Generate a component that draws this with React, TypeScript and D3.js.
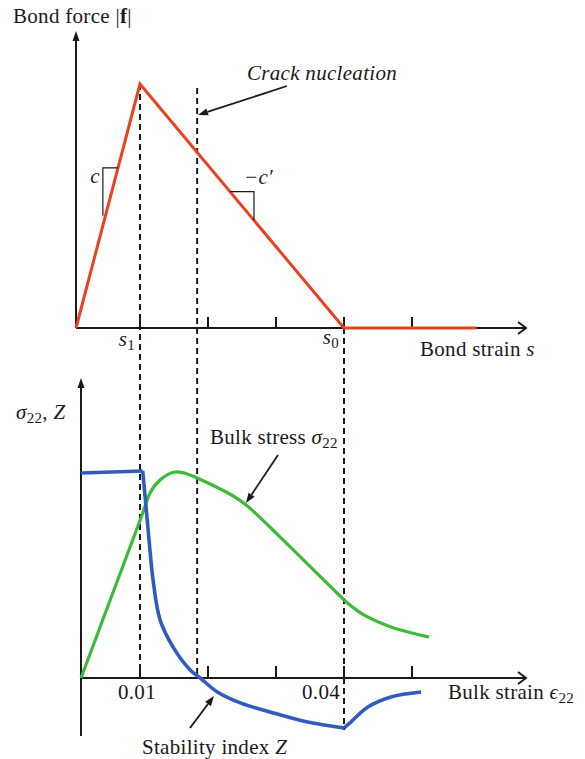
import React from 'react';
import * as d3 from 'd3';

const W = 585;
const H = 759;

// ---- Top panel: bond force law ----
const bondStrain = [0, 0.01, 0.04, 0.0595];
const bondForce = [0, 1, 0, 0];
const strainTicks = [0.01, 0.02, 0.03, 0.04, 0.05];
const s1 = 0.01;
const s0 = 0.04;
const crackStrain = 0.0184;

// ---- Bottom panel: bulk response ----
const stressStrainA = [0, 0.0103, 0.01148, 0.01295, 0.01517, 0.01738, 0.01841, 0.02225, 0.02579, 0.02963, 0.03362, 0.03701, 0.04];
const stressValueA = [0, 0.791, 0.898, 0.961, 1.0, 0.985, 0.971, 0.91, 0.835, 0.716, 0.587, 0.476, 0.379];
const stressStrainB = [0.04, 0.04292, 0.0469, 0.05251];
const stressValueB = [0.379, 0.306, 0.248, 0.199];

const zStrainA = [0, 0.0104, 0.01089, 0.01133, 0.01192, 0.01295, 0.01487, 0.01738, 0.01886, 0.02137, 0.02476, 0.02963, 0.03465, 0.04];
const zValueA = [0.995, 1.005, 0.83, 0.67, 0.476, 0.282, 0.15, 0.039, 0, -0.068, -0.121, -0.17, -0.214, -0.243];
const zStrainB = [0.04, 0.041, 0.04351, 0.0469, 0.05133];
const zValueB = [-0.243, -0.214, -0.141, -0.092, -0.068];

const bottomTickLabels = ['0.01', '0.04'];
const bottomTickValues = [0.01, 0.04];

const RED = '#e8421f';
const GREEN = '#3dba3a';
const BLUE = '#2f5cbd';
const INK = '#1a1a1a';
const FONT = "'Liberation Serif', 'Times New Roman', serif";

function zip(xs: number[], ys: number[]): [number, number][] {
  return xs.map((x, i) => [x, ys[i]]);
}

export default function App() {
  const xTop = d3.scaleLinear().domain([0, 0.01, 0.05]).range([76, 140, 412]);
  const yTop = d3.scaleLinear().domain([0, 1]).range([328, 84]);
  const xBot = d3.scaleLinear().domain([0, 0.01, 0.05]).range([81, 140, 412]);
  const yBot = d3.scaleLinear().domain([0, 1]).range([678, 472]);

  const lineTop = d3.line<[number, number]>().x(d => xTop(d[0])).y(d => yTop(d[1]));
  const lineBot = d3
    .line<[number, number]>()
    .x(d => xBot(d[0]))
    .y(d => yBot(d[1]))
    .curve(d3.curveCatmullRom.alpha(0.5));
  const lineBotSmooth = d3
    .line<[number, number]>()
    .x(d => xBot(d[0]))
    .y(d => yBot(d[1]))
    .curve(d3.curveNatural);
  const lineBotLinear = d3.line<[number, number]>().x(d => xBot(d[0])).y(d => yBot(d[1]));

  const redPath = lineTop(zip(bondStrain, bondForce)) || '';
  const greenA = lineBotSmooth(zip(stressStrainA.slice(1), stressValueA.slice(1))) || '';
  const greenLin = lineBotLinear(zip(stressStrainA.slice(0, 2), stressValueA.slice(0, 2))) || '';
  const greenB = lineBot(zip(stressStrainB, stressValueB)) || '';
  const blueFlat = lineBotLinear(zip(zStrainA.slice(0, 2), zValueA.slice(0, 2))) || '';
  const blueA = lineBot(zip(zStrainA.slice(1), zValueA.slice(1))) || '';
  const blueB = lineBot(zip(zStrainB, zValueB)) || '';

  const topAxisY = yTop(0);
  const botAxisY = yBot(0);
  const topOriginX = xTop(0);
  const botOriginX = xBot(0);
  const xEnd = 526;

  const dash = { stroke: INK, strokeWidth: 2, strokeDasharray: '6,4', fill: 'none' } as const;

  // slope triangles
  const upSlope = (e: number) => e / 0.01;
  const triC = [
    [xTop(0.0042), yTop(0.46)],
    [xTop(0.0042), yTop(0.656)],
    [xTop(0.00656), yTop(upSlope(0.00656))],
  ];
  const downF = (e: number) => (s0 - e) / (s0 - s1);
  const triC2 = [
    [xTop(0.02324), yTop(downF(0.02324))],
    [xTop(0.02676), yTop(downF(0.02324))],
    [xTop(0.02676), yTop(downF(0.02676))],
  ];
  const poly = (pts: number[][]) => pts.map((p, i) => (i ? 'L' : 'M') + p[0] + ',' + p[1]).join('');

  const chevron = (x: number, y: number) => `M${x - 8},${y - 6}L${x},${y}L${x - 8},${y + 6}`;
  const upHead = (x: number, y: number) => `M${x},${y}L${x - 3.5},${y + 10}L${x + 3.5},${y + 10}Z`;

  const arrow = (x1: number, y1: number, x2: number, y2: number) => {
    const a = Math.atan2(y2 - y1, x2 - x1);
    const L = 10;
    const w = 3.6;
    const bx = x2 - L * Math.cos(a);
    const by = y2 - L * Math.sin(a);
    const px = -Math.sin(a) * w;
    const py = Math.cos(a) * w;
    return (
      <g>
        <line x1={x1} y1={y1} x2={bx} y2={by} stroke={INK} strokeWidth={1.8} />
        <path d={`M${x2},${y2}L${bx + px},${by + py}L${bx - px},${by - py}Z`} fill={INK} />
      </g>
    );
  };

  const fs = 21;
  const sub = 15;

  return (
    <svg
      width={W}
      height={H}
      style={{ position: 'absolute', left: 0, top: 0, background: '#fff', fontFamily: FONT, letterSpacing: '0.3px' }}
      fontSize={fs}
      fill={INK}
    >
      <rect width={W} height={H} fill="#fff" />

      {/* dashed guide lines */}
      <line x1={xTop(s1)} x2={xTop(s1)} y1={yTop(1)} y2={botAxisY} {...dash} />
      <line x1={xTop(crackStrain)} x2={xTop(crackStrain)} y1={yTop(0.984)} y2={botAxisY} {...dash} />
      <line x1={xTop(s0)} x2={xTop(s0)} y1={topAxisY} y2={yBot(-0.252)} {...dash} />

      {/* ---- top axes ---- */}
      <line x1={topOriginX} y1={topAxisY} x2={topOriginX} y2={36} stroke={INK} strokeWidth={2} />
      <path d={upHead(topOriginX, 31)} fill={INK} />
      <line x1={topOriginX} y1={topAxisY} x2={xEnd} y2={topAxisY} stroke={INK} strokeWidth={2} />
      <path d={chevron(xEnd, topAxisY)} stroke={INK} strokeWidth={2} fill="none" />
      {strainTicks.map(t => (
        <line key={'tt' + t} x1={xTop(t)} x2={xTop(t)} y1={topAxisY} y2={topAxisY - 11} stroke={INK} strokeWidth={2} />
      ))}

      {/* red bond force */}
      <path d={redPath} stroke={RED} strokeWidth={3} fill="none" strokeLinejoin="miter" />

      {/* slope triangles */}
      <path d={poly(triC)} stroke={INK} strokeWidth={1.2} fill="none" />
      <path d={poly(triC2)} stroke={INK} strokeWidth={1.2} fill="none" />
      <text x={95} y={183} fontStyle="italic" textAnchor="middle">c</text>
      <text x={244} y={184} fontStyle="italic">−c′</text>

      {/* top labels */}
      <text x={13} y={23}>
        Bond force |<tspan fontWeight="bold">f</tspan>|
      </text>
      <text x={247} y={80} fontStyle="italic">Crack nucleation</text>
      {arrow(287, 86, 198, 115)}
      <text x={xTop(s1) - 5} y={346} textAnchor="end">
        <tspan fontStyle="italic">s</tspan>
        <tspan fontSize={sub} dy={4}>1</tspan>
      </text>
      <text x={xTop(s0) - 5} y={344} textAnchor="end">
        <tspan fontStyle="italic">s</tspan>
        <tspan fontSize={sub} dy={4}>0</tspan>
      </text>
      <text x={420} y={356}>
        Bond strain <tspan fontStyle="italic">s</tspan>
      </text>

      {/* ---- bottom axes ---- */}
      <line x1={botOriginX} y1={736} x2={botOriginX} y2={383} stroke={INK} strokeWidth={2} />
      <path d={upHead(botOriginX, 378)} fill={INK} />
      <line x1={botOriginX} y1={botAxisY} x2={xEnd} y2={botAxisY} stroke={INK} strokeWidth={2} />
      <path d={chevron(xEnd, botAxisY)} stroke={INK} strokeWidth={2} fill="none" />
      {strainTicks.map(t => (
        <line key={'bt' + t} x1={xBot(t)} x2={xBot(t)} y1={botAxisY} y2={botAxisY - 12} stroke={INK} strokeWidth={2} />
      ))}

      {/* curves */}
      <path d={greenLin} stroke={GREEN} strokeWidth={3.2} fill="none" />
      <path d={greenA} stroke={GREEN} strokeWidth={3.2} fill="none" />
      <path d={greenB} stroke={GREEN} strokeWidth={3.2} fill="none" />
      <path d={blueFlat} stroke={BLUE} strokeWidth={3.6} fill="none" />
      <path d={blueA} stroke={BLUE} strokeWidth={3.6} fill="none" />
      <path d={blueB} stroke={BLUE} strokeWidth={3.6} fill="none" />

      {/* bottom labels */}
      <text x={16} y={419}>
        <tspan fontStyle="italic">σ</tspan>
        <tspan fontSize={sub} dy={4}>22</tspan>
        <tspan dy={-4}>, </tspan>
        <tspan fontStyle="italic">Z</tspan>
      </text>
      <text x={210} y={444}>
        Bulk stress <tspan fontStyle="italic">σ</tspan>
        <tspan fontSize={sub} dy={4}>22</tspan>
      </text>
      {arrow(278, 455, 246, 503)}
      {bottomTickLabels.map((l, i) => (
        <text
          key={l}
          x={xBot(bottomTickValues[i]) - (i === 0 ? 3 : 4)}
          y={699}
          textAnchor={i === 0 ? 'middle' : 'end'}
        >
          {l}
        </text>
      ))}
      <text x={448} y={699}>
        Bulk strain <tspan fontStyle="italic">ϵ</tspan>
        <tspan fontSize={sub} dy={4}>22</tspan>
      </text>
      <text x={142} y={754}>
        Stability index <tspan fontStyle="italic">Z</tspan>
      </text>
      {arrow(190, 728, 214, 696)}
    </svg>
  );
}
